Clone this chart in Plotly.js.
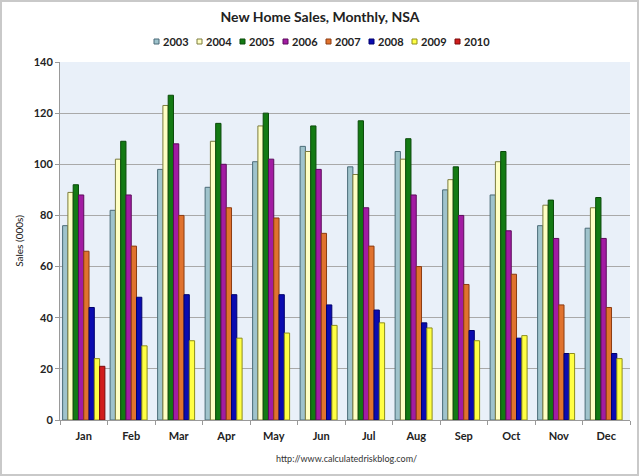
<!DOCTYPE html>
<html>
<head>
<meta charset="utf-8">
<script src="https://cdn.plot.ly/plotly-3.0.1.min.js"></script>
<style>
  body { margin: 0; background: #fff; }
  #wrap { width: 639px; height: 476px; box-sizing: border-box; border: 2px solid #c9c9c9; overflow: hidden; }
</style>
</head>
<body>
<div id="wrap"><div id="myDiv"></div></div>
<script>
// new home sales, not seasonally adjusted (000s)
var months = ['Jan', 'Feb', 'Mar', 'Apr', 'May', 'Jun', 'Jul', 'Aug', 'Sep', 'Oct', 'Nov', 'Dec'];
var years = ['2003', '2004', '2005', '2006', '2007', '2008', '2009', '2010'];

var sales2003 = [76, 82, 98, 91, 101, 107, 99, 105, 90, 88, 76, 75];
var sales2004 = [89, 102, 123, 109, 115, 105, 96, 102, 94, 101, 84, 83];
var sales2005 = [92, 109, 127, 116, 120, 115, 117, 110, 99, 105, 86, 87];
var sales2006 = [88, 88, 108, 100, 102, 98, 83, 88, 80, 74, 71, 71];
var sales2007 = [66, 68, 80, 83, 79, 73, 68, 60, 53, 57, 45, 44];
var sales2008 = [44, 48, 49, 49, 49, 45, 43, 38, 35, 32, 26, 26];
var sales2009 = [24, 29, 31, 32, 34, 37, 38, 36, 31, 33, 26, 24];
var sales2010 = [21];

var series = [sales2003, sales2004, sales2005, sales2006, sales2007, sales2008, sales2009, sales2010];

var fills = ['#9fc3cc', '#ffffc4', '#137a13', '#a21ca2', '#e0722e', '#0b0bb0', '#ffff45', '#d01c1c'];
var edges = ['#4b6b78', '#7c7c3e', '#0a4a0a', '#5c0b5c', '#8c3c12', '#00006c', '#8e8e1c', '#7a0a0a'];

var data = series.map(function (vals, i) {
  return {
    type: 'bar',
    name: years[i],
    x: months.slice(0, vals.length),
    y: vals,
    marker: { color: fills[i], line: { color: edges[i], width: 1 } },
    hoverinfo: 'name+y'
  };
});

// plot area in pixels, used to place the hand-made legend
var W = 635, H = 472;
var L = 58, R = 7, T = 60, B = 54;
var pw = W - L - R, ph = H - T - B;
function px(x) { return (x - L) / pw; }
function py(y) { return (H - B - y) / ph; }

var shapes = [];
var annotations = [];
years.forEach(function (yr, i) {
  var sx = 152 + i * 43;
  shapes.push({
    type: 'rect', xref: 'paper', yref: 'paper',
    x0: px(sx), x1: px(sx + 5), y0: py(42), y1: py(37),
    fillcolor: fills[i], line: { color: edges[i], width: 1 }
  });
  annotations.push({
    xref: 'paper', yref: 'paper', x: px(sx + 7), y: py(39.5),
    xanchor: 'left', yanchor: 'middle', showarrow: false,
    text: yr, font: { size: 11, weight: 'bold', color: '#222' }
  });
});

annotations.push({
  xref: 'paper', yref: 'paper', x: px(344), y: py(456),
  xanchor: 'center', yanchor: 'middle', showarrow: false,
  text: 'http://www.calculatedriskblog.com/',
  font: { size: 9, color: '#333' }
});

var layout = {
  width: W,
  height: H,
  margin: { l: L, r: R, t: T, b: B, pad: 0 },
  font: { family: 'Lato, "Open Sans", sans-serif', color: '#222' },
  title: {
    text: 'New Home Sales, Monthly, NSA',
    font: { size: 14, weight: 'bold', color: '#222' },
    xref: 'container', x: 318 / W, xanchor: 'center',
    yref: 'container', y: 1 - 15 / H, yanchor: 'middle'
  },
  showlegend: false,
  barmode: 'group',
  bargap: 0.11,
  bargroupgap: 0,
  paper_bgcolor: '#ffffff',
  plot_bgcolor: '#e9f0f9',
  xaxis: {
    type: 'category',
    tickson: 'boundaries',
    ticks: 'outside',
    ticklen: 4,
    tickcolor: '#999',
    showline: true,
    linecolor: '#999',
    showgrid: false,
    ticklabelstandoff: 6,
    tickfont: { size: 11, weight: 'bold', color: '#222' },
    fixedrange: true
  },
  yaxis: {
    range: [0, 140],
    dtick: 20,
    ticks: 'outside',
    ticklen: 4,
    tickcolor: '#999',
    showline: true,
    linecolor: '#999',
    gridcolor: '#a9a9a9',
    zeroline: false,
    tickfont: { size: 11, weight: 'bold', color: '#222' },
    title: { text: 'Sales (000s)', font: { size: 10, color: '#111111' }, standoff: 8 },
    fixedrange: true
  },
  shapes: shapes,
  annotations: annotations
};

Plotly.newPlot('myDiv', data, layout, { displayModeBar: false, staticPlot: true });
</script>
</body>
</html>
